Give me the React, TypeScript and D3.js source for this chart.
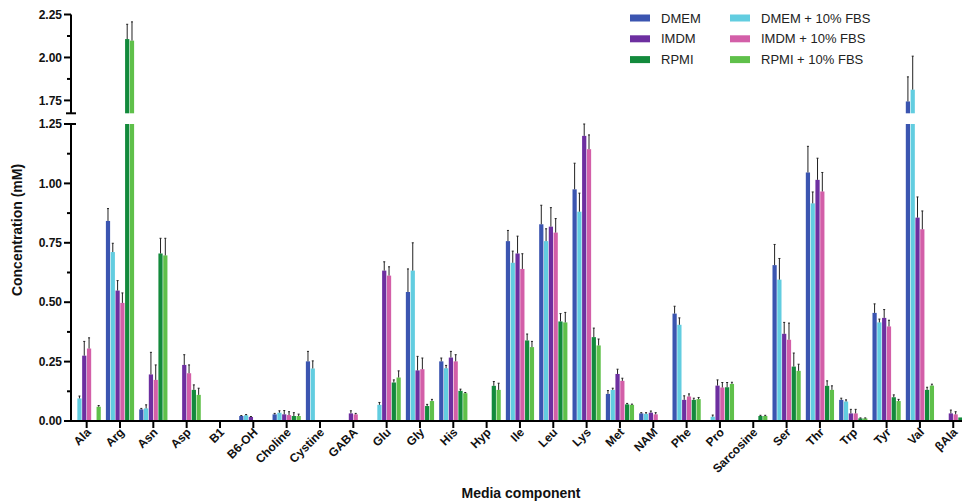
import React from "react";
import * as d3 from "d3";

const categories = ["Ala", "Arg", "Asn", "Asp", "B1", "B6-OH", "Choline", "Cystine", "GABA", "Glu", "Gly", "His", "Hyp", "Ile", "Leu", "Lys", "Met", "NAM", "Phe", "Pro", "Sarcosine", "Ser", "Thr", "Trp", "Tyr", "Val", "βAla"];

const seriesNames = ["DMEM", "DMEM + 10% FBS", "IMDM", "IMDM + 10% FBS", "RPMI", "RPMI + 10% FBS"];
const seriesColors = ["#3b55b0", "#62cde0", "#6d2fa0", "#d35fa8", "#138a3c", "#5fc04a"];

// mean values (mM), one per category
const dmem = [0, 0.842, 0.049, 0, 0.004, 0.021, 0.028, 0.251, 0, 0, 0.543, 0.251, 0, 0.757, 0.828, 0.975, 0.114, 0.032, 0.452, 0, 0, 0.656, 1.046, 0.089, 0.455, 1.744, 0];
const dmemErr = [0, 0.052, 0.004, 0, 0, 0.002, 0.004, 0.042, 0, 0, 0.097, 0.014, 0, 0.045, 0.08, 0.11, 0.014, 0.003, 0.031, 0, 0, 0.087, 0.11, 0.007, 0.038, 0.143, 0];
const dmemFbs = [0.095, 0.711, 0.053, 0, 0, 0.024, 0.035, 0.221, 0, 0.068, 0.633, 0.222, 0, 0.666, 0.757, 0.881, 0.131, 0.03, 0.405, 0.018, 0, 0.595, 0.916, 0.082, 0.415, 1.8125, 0];
const dmemFbsErr = [0.01, 0.037, 0.015, 0, 0, 0.003, 0.008, 0.032, 0, 0.01, 0.117, 0.012, 0, 0.049, 0.052, 0.078, 0.007, 0.005, 0.029, 0.007, 0, 0.089, 0.048, 0.007, 0.014, 0.195, 0];
const imdm = [0.275, 0.549, 0.196, 0.236, 0.003, 0.017, 0.028, 0, 0.032, 0.633, 0.213, 0.267, 0, 0.705, 0.818, 1.2, 0.198, 0.035, 0.089, 0.149, 0, 0.367, 1.015, 0.032, 0.434, 0.856, 0.032];
const imdmErr = [0.06, 0.042, 0.093, 0.043, 0, 0.002, 0.016, 0, 0.011, 0.037, 0.059, 0.026, 0, 0.073, 0.08, 0.05, 0.02, 0.007, 0.017, 0.024, 0, 0.048, 0.091, 0.017, 0.035, 0.087, 0.014];
const imdmFbs = [0.305, 0.497, 0.173, 0.201, 0, 0, 0.025, 0, 0.028, 0.612, 0.218, 0.251, 0, 0.64, 0.793, 1.144, 0.169, 0.028, 0.103, 0.141, 0, 0.342, 0.966, 0.032, 0.398, 0.807, 0.028];
const imdmFbsErr = [0.045, 0.042, 0.063, 0.035, 0, 0, 0.014, 0, 0.004, 0.037, 0.047, 0.028, 0, 0.064, 0.059, 0.06, 0.011, 0.007, 0.011, 0.021, 0, 0.07, 0.08, 0.017, 0.026, 0.077, 0.011];
const rpmi = [0, 2.107, 0.705, 0.131, 0.003, 0, 0.021, 0, 0, 0.162, 0.063, 0.127, 0.148, 0.339, 0.419, 0.353, 0.07, 0, 0.089, 0.142, 0.021, 0.229, 0.148, 0.011, 0.1, 0.131, 0.015];
const rpmiErr = [0, 0.086, 0.064, 0.021, 0, 0, 0.014, 0, 0, 0.011, 0.007, 0.007, 0.018, 0.027, 0.033, 0.038, 0.004, 0, 0.007, 0.02, 0.003, 0.057, 0.021, 0.002, 0.01, 0.011, 0];
const rpmiFbs = [0.06, 2.098, 0.697, 0.11, 0, 0, 0.021, 0, 0, 0.183, 0.084, 0.117, 0.131, 0.311, 0.415, 0.318, 0.068, 0, 0.092, 0.156, 0.021, 0.211, 0.131, 0.011, 0.084, 0.149, 0];
const rpmiFbsErr = [0.005, 0.109, 0.072, 0.028, 0, 0, 0.008, 0, 0, 0.028, 0.007, 0.003, 0.028, 0.024, 0.042, 0.027, 0.003, 0, 0.007, 0.007, 0.003, 0.028, 0.017, 0.002, 0.007, 0.006, 0];

const seriesValues = [dmem, dmemFbs, imdm, imdmFbs, rpmi, rpmiFbs];
const seriesErrors = [dmemErr, dmemFbsErr, imdmErr, imdmFbsErr, rpmiErr, rpmiFbsErr];

const lowerTicks = [0, 0.25, 0.5, 0.75, 1.0, 1.25];
const lowerMinor = [0.125, 0.375, 0.625, 0.875, 1.125];
const upperTicks = [1.75, 2.0, 2.25];
const upperMinor = [1.875, 2.125];

const width = 962;
const height = 504;
const axisX = 71;
const baseY = 421;
const lowTop = 124;
const highBottom = 113.3;
const font = "'Liberation Sans', Arial, sans-serif";

export default function App() {
  const x = d3.scaleBand<string>()
    .domain(categories)
    .range([70, 70 + 27 * 33.33]);
  const inner = d3.scaleBand<string>()
    .domain(seriesNames)
    .range([-14.4, 14.4])
    .paddingInner(0.12)
    .paddingOuter(0.06);
  const yLow = d3.scaleLinear().domain([0, 1.25]).range([baseY, lowTop]);
  const yHigh = d3.scaleLinear().domain([1.675, 2.25]).range([highBottom, 14.5]);

  const bars: React.ReactNode[] = [];
  const errs: React.ReactNode[] = [];
  categories.forEach((cat, ci) => {
    const cx = (x(cat) ?? 0) + x.bandwidth() / 2;
    seriesNames.forEach((name, si) => {
      const v = seriesValues[si][ci];
      const e = seriesErrors[si][ci];
      if (!v) return;
      const bx = cx + (inner(name) ?? 0);
      const bw = inner.bandwidth();
      const lowTopY = yLow(Math.min(v, 1.25));
      bars.push(
        <rect key={`l-${ci}-${si}`} x={bx} y={lowTopY} width={bw} height={baseY - lowTopY} fill={seriesColors[si]} />
      );
      let yv = lowTopY;
      let ye = yLow(v + e);
      if (v > 1.25) {
        yv = yHigh(v);
        ye = yHigh(v + e);
        bars.push(
          <rect key={`h-${ci}-${si}`} x={bx} y={yv} width={bw} height={highBottom - yv} fill={seriesColors[si]} />
        );
      }
      if (e > 0) {
        const mx = bx + bw / 2;
        errs.push(
          <g key={`e-${ci}-${si}`} stroke="#222" strokeWidth={1}>
            <line x1={mx} x2={mx} y1={yv} y2={ye} />
            <line x1={mx - 1} x2={mx + 1} y1={ye} y2={ye} />
          </g>
        );
      }
    });
  });

  const legendRows = [0, 1, 2];

  return (
    <svg width={width} height={height} style={{ position: "absolute", left: 0, top: 0, background: "#fff" }} fontFamily={font}>
      <rect width={width} height={height} fill="#fff" />
      {bars}
      {errs}

      {/* y axis: lower segment */}
      <g stroke="#000" strokeWidth={2}>
        <line x1={axisX} x2={axisX} y1={lowTop} y2={baseY} />
        <line x1={axisX - 5} x2={axisX + 5} y1={lowTop} y2={lowTop} />
        {lowerTicks.map(t => (
          <line key={t} x1={axisX - 7} x2={axisX} y1={yLow(t)} y2={yLow(t)} />
        ))}
        {lowerMinor.map(t => (
          <line key={t} x1={axisX - 4} x2={axisX} y1={yLow(t)} y2={yLow(t)} />
        ))}
        {/* upper segment */}
        <line x1={axisX} x2={axisX} y1={14.5} y2={highBottom} />
        <line x1={axisX - 5} x2={axisX + 5} y1={highBottom} y2={highBottom} />
        {upperTicks.map(t => (
          <line key={t} x1={axisX - 7} x2={axisX} y1={yHigh(t)} y2={yHigh(t)} />
        ))}
        {upperMinor.map(t => (
          <line key={t} x1={axisX - 4} x2={axisX} y1={yHigh(t)} y2={yHigh(t)} />
        ))}
      </g>
      <g fontSize={12} fontWeight="bold" textAnchor="end" fill="#111">
        {lowerTicks.map(t => (
          <text key={t} x={axisX - 9} y={yLow(t)} dy="0.35em">{d3.format(".2f")(t)}</text>
        ))}
        {upperTicks.map(t => (
          <text key={t} x={axisX - 9} y={yHigh(t)} dy="0.35em">{d3.format(".2f")(t)}</text>
        ))}
      </g>

      {/* x axis */}
      <g stroke="#000" strokeWidth={2}>
        <line x1={axisX - 1} x2={width} y1={baseY} y2={baseY} />
        {categories.map(c => {
          const cx = (x(c) ?? 0) + x.bandwidth() / 2;
          return <line key={c} x1={cx} x2={cx} y1={baseY} y2={baseY + 7} />;
        })}
      </g>
      <g fontSize={12} fontWeight="bold" textAnchor="end" fill="#111">
        {categories.map(c => {
          const cx = (x(c) ?? 0) + x.bandwidth() / 2 + 5;
          return (
            <text key={c} transform={`translate(${cx},${433}) rotate(-45)`}>{c}</text>
          );
        })}
      </g>

      <text x={521} y={498} textAnchor="middle" fontSize={14} fontWeight="bold" fill="#111">Media component</text>
      <text transform={`translate(22,230) rotate(-90)`} textAnchor="middle" fontSize={14} fontWeight="bold" fill="#111">Concentration (mM)</text>

      {/* legend */}
      <g fontSize={13} fill="#222">
        {legendRows.map(r => (
          <g key={r}>
            <rect x={630} y={14.5 + r * 20.8} width={20} height={7} fill={seriesColors[r * 2]} />
            <text x={661} y={18 + r * 20.8} dy="0.35em">{seriesNames[r * 2]}</text>
            <rect x={730} y={14.5 + r * 20.8} width={20} height={7} fill={seriesColors[r * 2 + 1]} />
            <text x={761} y={18 + r * 20.8} dy="0.35em">{seriesNames[r * 2 + 1]}</text>
          </g>
        ))}
      </g>
    </svg>
  );
}
